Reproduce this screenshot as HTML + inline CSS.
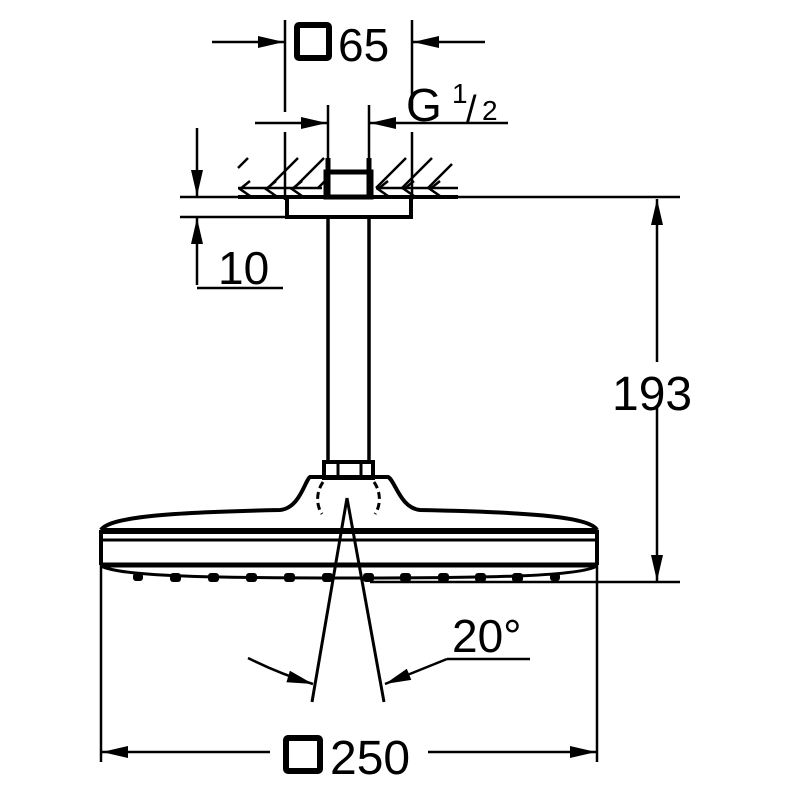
<!DOCTYPE html>
<html><head><meta charset="utf-8"><style>html,body{margin:0;padding:0;background:#fff}svg{display:block}text{font-family:"Liberation Sans",sans-serif;fill:#000}</style></head>
<body>
<svg width="800" height="800" viewBox="0 0 800 800" xmlns="http://www.w3.org/2000/svg">
<defs>
<marker id="a" viewBox="0 0 26 12" refX="26" refY="6" markerWidth="26" markerHeight="12" markerUnits="userSpaceOnUse" orient="auto"><path d="M0,0 L26,6 L0,12 Z" fill="#000"/></marker>
</defs>
<g stroke="#000" fill="none" stroke-width="2.5">
<!-- 65 dim -->
<line x1="285" y1="20" x2="285" y2="112"/><line x1="412" y1="20" x2="412" y2="112"/>
<line x1="212" y1="42" x2="284" y2="42" marker-end="url(#a)"/>
<line x1="485" y1="42" x2="413" y2="42" marker-end="url(#a)"/>
<rect x="297" y="25" width="32" height="33" stroke-width="6" rx="2"/>
<!-- G1/2 dim -->
<line x1="285" y1="132" x2="285" y2="200"/><line x1="412" y1="132" x2="412" y2="200"/>
<line x1="255" y1="123" x2="327" y2="123" marker-end="url(#a)"/>
<line x1="508" y1="123" x2="370" y2="123" marker-end="url(#a)"/>
<line x1="328" y1="105" x2="328" y2="170"/><line x1="369" y1="105" x2="369" y2="170"/>
<!-- hatch -->
<g stroke-width="2.5">
<line x1="238" y1="168" x2="248" y2="158"/>
<line x1="268" y1="188" x2="298" y2="158"/>
<line x1="294" y1="188" x2="324" y2="158"/>
<line x1="318" y1="188" x2="328" y2="178"/>
<line x1="376" y1="188" x2="406" y2="158"/>
<line x1="402" y1="188" x2="432" y2="158"/>
<line x1="428" y1="188" x2="452" y2="164"/>
<line x1="238" y1="188" x2="322" y2="188"/>
<line x1="376" y1="188" x2="458" y2="188"/>
<polyline points="250,181 240,189 250,196"/><polyline points="276,181 266,189 276,196"/><polyline points="302,181 292,189 302,196"/>
<polyline points="388,181 378,189 388,196"/><polyline points="414,181 404,189 414,196"/><polyline points="440,181 430,189 440,196"/>
</g>
<line x1="238" y1="197" x2="458" y2="197" stroke-width="4"/>
<line x1="180" y1="197" x2="680" y2="197"/>
<line x1="180" y1="217" x2="285" y2="217"/>
<rect x="287" y="197" width="124" height="20" stroke-width="4"/>
<rect x="326" y="172" width="45" height="25" stroke-width="5"/>
<line x1="328" y1="158" x2="328" y2="197" stroke-width="5"/>
<line x1="369" y1="158" x2="369" y2="197" stroke-width="5"/>
<!-- 10 dim -->
<line x1="197" y1="128" x2="197" y2="196" marker-end="url(#a)"/>
<line x1="197" y1="285" x2="197" y2="218" marker-end="url(#a)"/>
<line x1="197" y1="288" x2="283" y2="288"/>
<!-- pipe -->
<line x1="328" y1="217" x2="328" y2="462" stroke-width="3.5"/>
<line x1="369" y1="217" x2="369" y2="462" stroke-width="3.5"/>
<rect x="324" y="462" width="49" height="16" stroke-width="4"/>
<line x1="338" y1="462" x2="338" y2="478" stroke-width="3"/><line x1="361" y1="462" x2="361" y2="478" stroke-width="3"/>
<!-- head -->
<path d="M101,530 C110,516 180,512 280,510 C300,508 305,480 310,477 L388,477 C395,480 400,508 420,510 C520,512 590,516 597,530" stroke-width="4"/>
<line x1="101" y1="531" x2="597" y2="531" stroke-width="6"/>
<line x1="101" y1="540" x2="597" y2="540" stroke-width="3"/>
<line x1="101" y1="530" x2="101" y2="565" stroke-width="4"/>
<line x1="597" y1="530" x2="597" y2="565" stroke-width="4"/>
<line x1="101" y1="565" x2="597" y2="565" stroke-width="5"/>
<path d="M101,566 C120,576 200,578 350,578 C500,578 580,576 597,566" stroke-width="3"/>
<g stroke="none" fill="#000">
<rect x="133" y="573" width="10" height="8" rx="3"/><rect x="170" y="573" width="11" height="9" rx="3"/><rect x="208" y="573" width="11" height="9" rx="3"/><rect x="246" y="573" width="11" height="9" rx="3"/><rect x="284" y="573" width="11" height="9" rx="3"/><rect x="322" y="573" width="11" height="9" rx="3"/><rect x="363" y="573" width="11" height="9" rx="3"/><rect x="400" y="573" width="11" height="9" rx="3"/><rect x="438" y="573" width="11" height="9" rx="3"/><rect x="475" y="573" width="11" height="9" rx="3"/><rect x="512" y="573" width="11" height="9" rx="3"/><rect x="550" y="573" width="10" height="8" rx="3"/>
</g>
<path d="M323,482 C316,492 316,505 322,514" stroke-width="3" stroke-dasharray="7,4"/>
<path d="M374,482 C381,492 381,505 375,514" stroke-width="3" stroke-dasharray="7,4"/>
<line x1="370" y1="582" x2="680" y2="582"/>
<line x1="101" y1="565" x2="101" y2="762"/><line x1="597" y1="565" x2="597" y2="762"/>
<!-- 193 dim -->
<line x1="657" y1="362" x2="657" y2="199" marker-end="url(#a)"/>
<line x1="657" y1="405" x2="657" y2="581" marker-end="url(#a)"/>
<!-- cone -->
<line x1="347" y1="498" x2="312" y2="702" stroke-width="3"/>
<line x1="347" y1="498" x2="384" y2="702" stroke-width="3"/>
<path d="M248,658 Q280,674 313,684" marker-end="url(#a)"/>
<polyline points="530,659 447,659"/>
<line x1="447" y1="659" x2="385" y2="684" marker-end="url(#a)"/>
<!-- 250 dim -->
<line x1="270" y1="752" x2="102" y2="752" marker-end="url(#a)"/>
<line x1="428" y1="752" x2="596" y2="752" marker-end="url(#a)"/>
<rect x="286" y="738" width="34" height="33" stroke-width="6" rx="2"/>
</g>
<text x="338" y="61" font-size="46">65</text>
<text x="406" y="121" font-size="46">G</text>
<text x="452" y="103" font-size="28">1</text>
<text x="466" y="122" font-size="38">/</text>
<text x="482" y="120" font-size="28">2</text>
<text x="218" y="284" font-size="46">10</text>
<text x="612" y="410" font-size="48">193</text>
<text x="452" y="652" font-size="46">20°</text>
<text x="330" y="774" font-size="48">250</text>
</svg>
</body></html>
